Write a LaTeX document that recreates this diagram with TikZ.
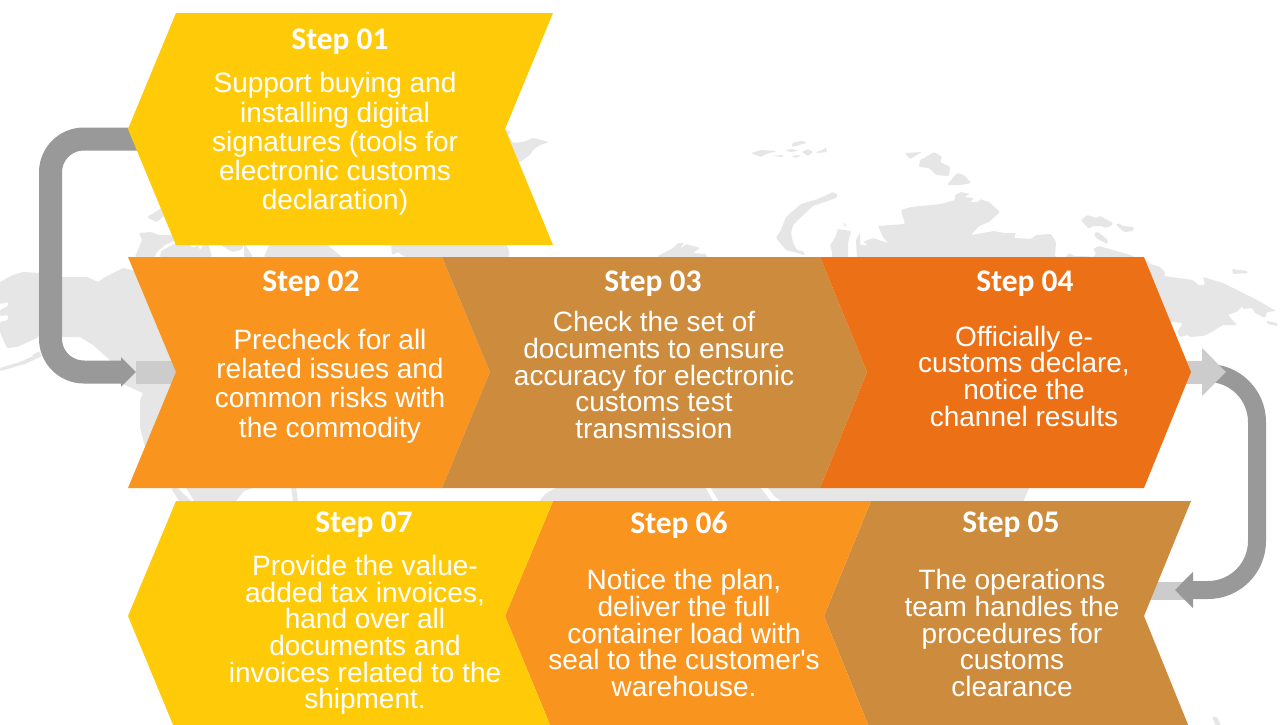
\documentclass[tikz,border=0pt]{standalone}
\usepackage{fontspec}
\setmainfont{Liberation Sans}
\newfontfamily\carl{Carlito}
\usetikzlibrary{arrows.meta}
\definecolor{cyellow}{HTML}{FFCB08}
\definecolor{corange}{HTML}{F9951F}
\definecolor{ctan}{HTML}{CC8B3D}
\definecolor{cdeep}{HTML}{EC7116}
\definecolor{cmap}{HTML}{E6E6E6}
\definecolor{cdark}{HTML}{999999}
\definecolor{clight}{HTML}{CCCCCC}
\tikzset{
  land/.style={fill=cmap,draw=none,rounded corners=0.8pt},
  gap/.style={fill=white,draw=none},
  stepttl/.style={text=white,inner sep=0pt,font=\carl\bfseries\fontsize{23.6}{26}\selectfont},
  stepbody/.style={text=white,inner sep=0pt,align=center,font=\fontsize{21}{20}\selectfont},
  stepbodywide/.style={text=white,inner sep=0pt,align=center,font=\fontsize{21}{21.9}\selectfont},
  linkdark/.style={draw=cdark,line width=17.25pt},
  linkthin/.style={draw=cdark,line width=13.5pt},
  linklight/.style={draw=clight,line width=17.25pt},
}
\begin{document}
\begin{tikzpicture}[x=0.75pt,y=-0.75pt]
\useasboundingbox (0,0) rectangle (1286,725);
\clip (0,0) rectangle (1286,725);
\fill[white] (0,0) rectangle (1286,725);
% ---------- map
\fill[land] (0,282)--(13,275)--(23,272)--(40,273)--(63,277)--(87,277)--(98,282)--(105,277)--(123,268)--(132,270)--(180,300)--(180,450)--(145,447)--(140,427)--(140,400)--(143,393)--(125,385)--(110,360)--(93,345)--(80,337)--(63,337)--(45,330)--(37,338)--(17,347)--(7,348)--(0,332)--(0,322)--(8,320)--(8,315)--(0,316)--(0,310)--(8,306)--(8,302)--(0,304)--cycle;
\fill[land] (40,353)--(20,362)--(0,368)--(0,371)--(25,364)--(42,356)--cycle;
\fill[land] (32,355)--(40,351)--(40,354)--(33,357)--cycle;
\fill[land] (147,217)--(163,207)--(167,213)--(157,222)--(150,219)--cycle;
\fill[land] (135,257)--(142,240)--(139,233)--(151,232)--(159,235)--(180,235)--(175,240)--(165,245)--(156,253)--(155,257)--cycle;
\fill[land] (160,257)--(161,251)--(176,243)--(185,240)--(193,248)--(198,245)--(200,250)--(207,240)--(212,257)--cycle;
\fill[land] (221,245)--(232,252)--(241,250)--(244,245)--cycle;
\fill[land] (244,243)--(253,257)--(244,257)--cycle;
\fill[land] (264,257)--(270,243)--(325,243)--(342,257)--cycle;
\fill[land] (391,243)--(392,255)--(398,252)--(405,257)--(509,257)--(509,250)--(505,243)--cycle;
\fill[land] (505,129)--(511,132)--(508,135)--(513,143)--(523,142)--(533,138)--(549,142)--(540,145)--(533,150)--(530,155)--(520,162)--(505,170)--cycle;
\fill[land] (658,260)--(658,256)--(673,248)--(678,243)--(684,243)--(679,250)--(686,244)--(700,248)--(693,253)--(706,254)--(708,260)--cycle;
\fill[land] (751,153)--(761,150)--(777,151)--(766,154)--(761,157)--cycle;
\fill[land] (772,156)--(783,155)--(783,157)--cycle;
\fill[land] (785,150)--(793,149)--(798,151)--(790,152)--cycle;
\fill[land] (791,156)--(801,155)--(796,158)--cycle;
\fill[land] (792,143)--(801,141)--(806,142)--(806,143)--(792,147)--cycle;
\fill[land] (802,152)--(808,149)--(813,152)--(808,156)--cycle;
\fill[land] (816,152)--(823,150)--(826,147)--(827,152)--(817,153)--cycle;
\fill[land] (905,153)--(922,152)--(910,159)--cycle;
\fill[land] (934,152)--(942,157)--(940,162)--(950,167)--(949,176)--(936,175)--(929,168)--(919,167)--(920,160)--(926,157)--cycle;
\fill[land] (957,173)--(964,175)--(971,183)--(961,185)--(947,185)--cycle;
\fill[land] (857,260)--(856,240)--(860,233)--(860,245)--(868,245)--(863,242)--(873,238)--(888,243)--(883,237)--(878,226)--(905,224)--(901,210)--(911,207)--(941,204)--(955,200)--(955,195)--(961,192)--(970,194)--(964,197)--(974,198)--(970,202)--(979,202)--(980,199)--(989,202)--(1000,212)--(989,222)--(979,226)--(971,235)--(994,231)--(1004,233)--(1016,233)--(1014,238)--(1031,239)--(1036,235)--(1051,234)--(1056,242)--(1055,257)--(1066,257)--(1069,253)--(1074,256)--(1084,256)--(1094,257)--(1096,253)--(1093,249)--(1099,246)--(1127,254)--(1150,262)--(1150,300)--(857,300)--cycle;
\fill[land] (838,229)--(851,231)--(848,243)--(848,260)--(832,260)--(832,252)--(830,245)--(835,238)--cycle;
\fill[land] (843,222)--(847,226)--(845,227)--cycle;
\fill[land] (833,192)--(838,195)--(836,198)--(813,206)--(801,217)--(793,225)--(791,233)--(793,243)--(797,250)--(803,251)--(805,256)--(801,254)--(786,250)--(776,238)--(781,230)--(786,217)--(801,204)--(818,199)--cycle;
\fill[land] (1081,220)--(1087,215)--(1096,218)--(1100,216)--(1113,223)--(1111,226)--(1104,228)--(1103,226)--(1092,226)--(1089,229)--cycle;
\fill[land] (1116,225)--(1119,223)--(1122,226)--(1134,227)--(1133,231)--(1124,232)--cycle;
\fill[land] (1094,233)--(1098,232)--(1108,240)--(1107,244)--(1096,238)--cycle;
\fill[land] (1147,263)--(1160,267)--(1165,272)--(1164,276)--(1178,278)--(1193,280)--(1198,285)--(1205,285)--(1203,277)--(1223,283)--(1243,293)--(1257,300)--(1276,311)--(1267,312)--(1265,318)--(1255,313)--(1252,308)--(1243,309)--(1242,306)--(1238,311)--(1228,315)--(1237,325)--(1223,325)--(1210,333)--(1203,336)--(1190,337)--(1188,335)--(1180,337)--(1177,332)--(1183,323)--(1172,322)--(1150,322)--cycle;
\fill[land] (1232,269)--(1247,271)--(1248,273)--(1233,274)--cycle;
\fill[land] (1266,321)--(1277,323)--(1278,326)--(1268,324)--cycle;
\fill[land] (171,488)--(178,488)--(184,494)--(192,502)--(180,502)--(176,496)--cycle;
\fill[land] (185,486)--(259,486)--(244,491)--(235,502)--(195,502)--cycle;
\fill[land] (291,486)--(296,486)--(298,502)--(293,502)--cycle;
\fill[land] (539,502)--(545,494)--(552,490)--(560,486)--(1030,486)--(1023,502)--cycle;
\fill[gap] (705,487)--(710,487)--(719,502)--(714,502)--cycle;
\fill[gap] (760,487)--(767,487)--(775,497)--(783,502)--(772,502)--cycle;
\fill[land] (1212,717)--(1217,717)--(1221,726)--(1216,726)--cycle;
% ---------- connector anchors
\coordinate (from1) at (145,139);
\coordinate (turn1a) at (50.5,139);
\coordinate (turn1b) at (50.5,372);
\coordinate (into2) at (136,372);
\coordinate (notch2) at (180,372);
\coordinate (tip4) at (1185,372);
\coordinate (lighttip4) at (1226,372);
\coordinate (from4) at (1200,373);
\coordinate (turn4a) at (1257,373);
\coordinate (turn4b) at (1257,590);
\coordinate (into5) at (1175,590);
\coordinate (lightstart5) at (1190,591);
\coordinate (notch5) at (1145,591);
% ---------- connectors below the chevrons
\draw[linklight] (into2) -- (notch2);
\draw[linkdark,rounded corners=25pt,-{Triangle[length=11.25pt,width=21.5pt]},cdark] (from1) -- (turn1a) -- (turn1b) -- (into2);
\draw[linkthin,draw=clight] (lightstart5) -- (notch5);
\draw[linkthin,rounded corners=36.75pt,-{Triangle[length=13.5pt,width=26.5pt]},cdark] (from4) -- (turn4a) -- (turn4b) -- (into5);
\draw[linklight,-{Triangle[length=18pt,width=35pt]},clight] (tip4) -- (lighttip4);
% ---------- chevrons
\fill[cyellow] (176,13)--(553,13)--(505,129)--(553,245)--(176,245)--(128,129)--cycle;
\fill[corange] (128,257)--(442,257)--(490,372)--(442,488)--(128,488)--(176,372)--cycle;
\fill[ctan] (442,257)--(820,257)--(867,372)--(820,488)--(442,488)--(490,372)--cycle;
\fill[cdeep] (820,257)--(1144,257)--(1191,372)--(1144,488)--(820,488)--(867,372)--cycle;
\fill[ctan] (871,501)--(1191,501)--(1144,616)--(1191,732)--(871,732)--(824,616)--cycle;
\fill[corange] (553,501)--(871,501)--(824,616)--(871,732)--(553,732)--(505,616)--cycle;
\fill[cyellow] (176,501)--(553,501)--(505,616)--(553,732)--(176,732)--(128,616)--cycle;
% ---------- texts
\node[stepttl] (t1) at (340,42) {Step 01};
\node[stepbodywide] (b1) at (335,144) {Support buying and\\installing digital\\signatures (tools for\\electronic customs\\declaration)};
\node[stepttl] (t2) at (311,284) {Step 02};
\node[stepbodywide] (b2) at (330,386) {Precheck for all\\related issues and\\common risks with\\the commodity};
\node[stepttl] (t3) at (653,284) {Step 03};
\node[stepbody] (b3) at (654,375) {Check the set of\\documents to ensure\\accuracy for electronic\\customs test\\transmission};
\node[stepttl] (t4) at (1025,284) {Step 04};
\node[stepbody] (b4) at (1024,376) {Officially e-\\customs declare,\\notice the\\channel results};
\node[stepttl] (t5) at (1011,525) {Step 05};
\node[stepbody] (b5) at (1012,633) {The operations\\team handles the\\procedures for\\customs\\clearance};
\node[stepttl] (t6) at (679,525) {Step 06};
\node[stepbody] (b6) at (684,633) {Notice the plan,\\deliver the full\\container load with\\seal to the customer\textquotesingle s\\warehouse.};
\node[stepttl] (t7) at (364,525) {Step 07};
\node[stepbody] (b7) at (365,635) {Provide the value-\\added tax invoices,\\hand over all\\documents and\\invoices related to the\\shipment.};
\end{tikzpicture}
\end{document}
